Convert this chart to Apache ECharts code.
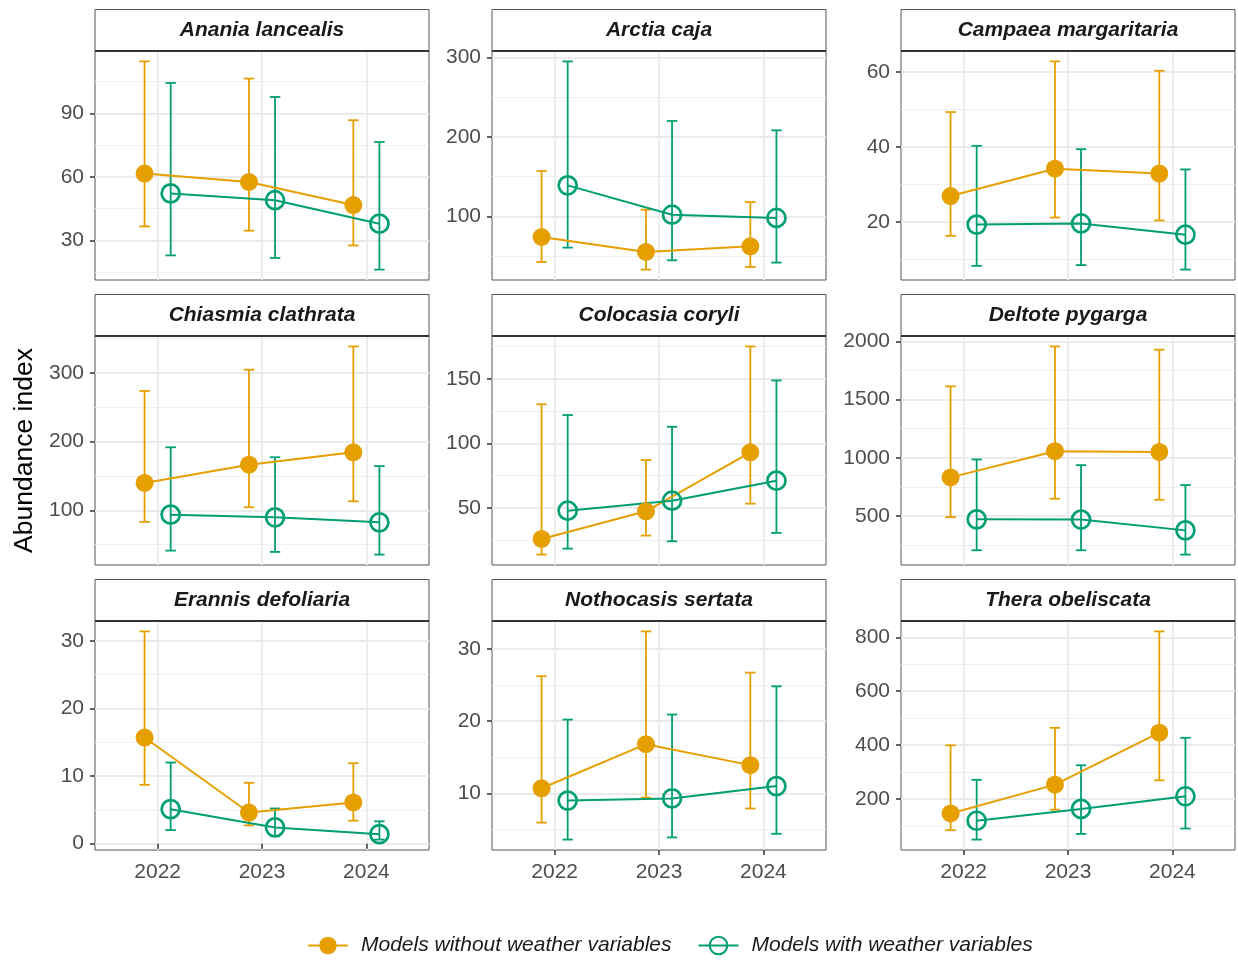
<!DOCTYPE html>
<html lang="en">
<head>
    <meta charset="UTF-8">
    <title>Abundance index</title>
    <script src="https://cdn.jsdelivr.net/npm/echarts@6.0.0/dist/echarts.min.js"></script>
    <style>
        html, body { margin: 0; padding: 0; background: #fff; }
        #main { width: 1238px; height: 960px; }
    </style>
</head>
<body>
<div id="main"></div>
<script>
    // data
    var years = [2022, 2023, 2024];
    var species = ['Anania lancealis', 'Arctia caja', 'Campaea margaritaria',
        'Chiasmia clathrata', 'Colocasia coryli', 'Deltote pygarga',
        'Erannis defoliaria', 'Nothocasis sertata', 'Thera obeliscata'];

    // models without weather variables (orange)
    var noWeatherEst = [[61.6, 57.6, 46.7], [73.9, 55.0, 62.2], [26.9, 34.2, 32.9],
        [139.9, 166.5, 184.4], [26.0, 47.4, 93.0], [832, 1057, 1051],
        [15.7, 4.6, 6.1], [10.7, 16.8, 13.9], [146, 253, 446]];
    var noWeatherLo = [[36.6, 34.6, 27.6], [42.4, 32.8, 36.1], [16.3, 21.2, 20.4],
        [83.1, 104.4, 113.1], [13.9, 28.6, 53.3], [491, 649, 640],
        [8.7, 2.7, 3.4], [5.95, 9.4, 7.9], [84, 160, 269]];
    var noWeatherHi = [[114.6, 106.5, 86.8], [157.1, 108.4, 118.0], [49.3, 62.8, 60.3],
        [273.8, 304.8, 338.7], [130.2, 87.1, 175.0], [1614, 1957, 1929],
        [31.4, 9.0, 11.9], [26.2, 32.4, 26.7], [399, 464, 822]];

    // models with weather variables (green)
    var weatherEst = [[52.2, 49.0, 37.9], [139.0, 102.0, 97.9], [19.3, 19.6, 16.6],
        [93.7, 89.8, 82.5], [47.9, 55.6, 71.1], [472, 470, 377],
        [5.1, 2.4, 1.4], [9.0, 9.3, 11.0], [119, 163, 210]];
    var weatherLo = [[22.9, 21.7, 16.2], [60.5, 44.5, 41.6], [8.3, 8.5, 7.3],
        [41.3, 39.4, 35.5], [18.5, 24.2, 30.7], [206, 206, 169],
        [2.0, 1.1, 0.6], [3.6, 3.9, 4.4], [49, 70, 90]];
    var weatherHi = [[104.4, 97.8, 76.5], [295.3, 220.2, 208.4], [40.3, 39.4, 34.0],
        [191.8, 177.3, 164.4], [121.9, 112.8, 148.7], [986, 937, 766],
        [12.0, 5.2, 3.3], [20.2, 20.9, 24.8], [271, 325, 427]];

    // tick labels
    var yMajorTicks = [[30, 60, 90], [100, 200, 300], [20, 40, 60],
        [100, 200, 300], [50, 100, 150], [500, 1000, 1500, 2000],
        [0, 10, 20, 30], [10, 20, 30], [200, 400, 600, 800]];
    var yMinorTicks = [[15, 45, 75, 105], [50, 150, 250], [10, 30, 50],
        [50, 150, 250, 350], [25, 75, 125, 175], [250, 750, 1250, 1750],
        [5, 15, 25], [5, 15, 25], [100, 300, 500, 700]];

    var nameNo = 'Models without weather variables';
    var nameWith = 'Models with weather variables';

    // layout / style
    var FONT = '"Liberation Sans", Arial, sans-serif';
    var ORANGE = '#E69F00', GREEN = '#009E73';
    var colLeft = [95, 492, 901];
    var rowTop = [51, 336, 621];
    var panelW = 334, panelH = 229, stripH = 41.5;
    var dodge = 0.125, capW = 0.1;

    function errorBars(color) {
        return function (params, api) {
            var x = api.value(0);
            var lo = api.coord([x, api.value(1)]);
            var hi = api.coord([x, api.value(2)]);
            var l = api.coord([x - capW / 2, api.value(1)])[0];
            var r = api.coord([x + capW / 2, api.value(1)])[0];
            return {
                type: 'group',
                children: [
                    {type: 'line', shape: {x1: lo[0], y1: lo[1], x2: hi[0], y2: hi[1]}, style: {stroke: color, lineWidth: 1.8}},
                    {type: 'line', shape: {x1: l, y1: hi[1], x2: r, y2: hi[1]}, style: {stroke: color, lineWidth: 1.8}},
                    {type: 'line', shape: {x1: l, y1: lo[1], x2: r, y2: lo[1]}, style: {stroke: color, lineWidth: 1.8}}
                ]
            };
        };
    }

    function buildOption() {
        var grids = [], xAxes = [], yAxes = [], series = [], graphics = [];

        species.forEach(function (sp, i) {
            var row = Math.floor(i / 3), col = i % 3;
            var pLeft = colLeft[col], pTop = rowTop[row];

            grids.push({
                left: pLeft, top: pTop, width: panelW, height: panelH,
                outerBoundsMode: 'none', containLabel: false,
                show: true, borderColor: '#555', borderWidth: 1, backgroundColor: '#fff'
            });

            // y range like ggplot: data range + 5%
            var all = [].concat(noWeatherLo[i], noWeatherHi[i], weatherLo[i], weatherHi[i]);
            var dmin = Math.min.apply(null, all), dmax = Math.max.apply(null, all);
            var pad = (dmax - dmin) * 0.05;

            var bottomRow = row === 2;
            xAxes.push({
                gridIndex: i, type: 'value', min: 2021.4, max: 2024.6,
                axisLine: {show: false},
                axisTick: {show: bottomRow, length: 5, customValues: years, lineStyle: {color: '#333', width: 1.5}},
                axisLabel: {show: bottomRow, customValues: years, margin: 12, fontSize: 21, color: '#4d4d4d',
                    fontFamily: FONT, formatter: function (v) { return String(v); }},
                splitLine: {show: true, lineStyle: {color: '#ebebeb', width: 1.8}}
            });

            var yMajor = {
                gridIndex: i, type: 'value', min: dmin - pad, max: dmax + pad,
                axisLine: {show: false},
                axisTick: {show: true, length: 5, customValues: yMajorTicks[i], lineStyle: {color: '#333', width: 1.5}},
                axisLabel: {customValues: yMajorTicks[i], margin: 11, fontSize: 21, color: '#4d4d4d',
                    fontFamily: FONT, formatter: function (v) { return String(v); }},
                splitLine: {show: true, lineStyle: {color: '#ebebeb', width: 1.8}}
            };
            if (i === 3) {
                yMajor.name = 'Abundance index';
                yMajor.nameLocation = 'middle';
                yMajor.nameRotate = 90;
                yMajor.nameGap = 57;
                yMajor.nameTextStyle = {fontSize: 26.5, color: '#000', fontFamily: FONT};
            }
            yAxes.push(yMajor);
            // second axis only for the minor grid lines
            yAxes.push({
                gridIndex: i, type: 'value', min: dmin - pad, max: dmax + pad, position: 'left',
                axisLine: {show: false},
                axisTick: {show: false, customValues: yMinorTicks[i]},
                axisLabel: {show: false},
                splitLine: {show: true, lineStyle: {color: '#f0f0f0', width: 1}}
            });

            var ya = 2 * i;
            series.push({
                type: 'line', name: nameNo, xAxisIndex: i, yAxisIndex: ya, z: 4,
                data: years.map(function (y, j) { return [y - dodge, noWeatherEst[i][j]]; }),
                symbol: 'circle', symbolSize: 18,
                itemStyle: {color: ORANGE},
                lineStyle: {color: ORANGE, width: 2},
                emphasis: {disabled: true}, silent: true
            });
            series.push({
                type: 'line', name: nameWith, xAxisIndex: i, yAxisIndex: ya, z: 4,
                data: years.map(function (y, j) { return [y + dodge, weatherEst[i][j]]; }),
                symbol: 'circle', symbolSize: 18,
                itemStyle: {color: 'rgba(0,0,0,0)', borderColor: GREEN, borderWidth: 2.7},
                lineStyle: {color: GREEN, width: 2},
                emphasis: {disabled: true}, silent: true
            });
            series.push({
                type: 'custom', name: nameNo, xAxisIndex: i, yAxisIndex: ya, z: 3,
                renderItem: errorBars(ORANGE), silent: true,
                data: years.map(function (y, j) { return [y - dodge, noWeatherLo[i][j], noWeatherHi[i][j]]; })
            });
            series.push({
                type: 'custom', name: nameWith, xAxisIndex: i, yAxisIndex: ya, z: 3,
                renderItem: errorBars(GREEN), silent: true,
                data: years.map(function (y, j) { return [y + dodge, weatherLo[i][j], weatherHi[i][j]]; })
            });

            // facet strip
            graphics.push({
                type: 'rect', z: 10,
                shape: {x: pLeft, y: pTop - stripH, width: panelW, height: stripH},
                style: {fill: '#fff', stroke: '#555', lineWidth: 1}
            });
            graphics.push({
                type: 'line', z: 11,
                shape: {x1: pLeft, y1: pTop, x2: pLeft + panelW, y2: pTop},
                style: {stroke: '#333', lineWidth: 2}
            });
            graphics.push({
                type: 'text', z: 11,
                x: pLeft + panelW / 2, y: pTop - stripH / 2,
                style: {
                    text: sp, textAlign: 'center', textVerticalAlign: 'middle',
                    font: 'italic bold 21px ' + FONT, fill: '#1a1a1a'
                }
            });
        });

        return {
            animation: false,
            backgroundColor: '#fff',
            grid: grids,
            xAxis: xAxes,
            yAxis: yAxes,
            series: series,
            graphic: graphics,
            legend: {
                data: [nameNo, nameWith],
                left: 302, top: 930,
                itemWidth: 40, itemHeight: 22, itemGap: 26,
                textStyle: {fontSize: 21, fontStyle: 'italic', color: '#1a1a1a', fontFamily: FONT, padding: [0, 0, 0, 8]}
            }
        };
    }

    var myChart = echarts.init(document.getElementById('main'));
    myChart.setOption(buildOption());
</script>
</body>
</html>
